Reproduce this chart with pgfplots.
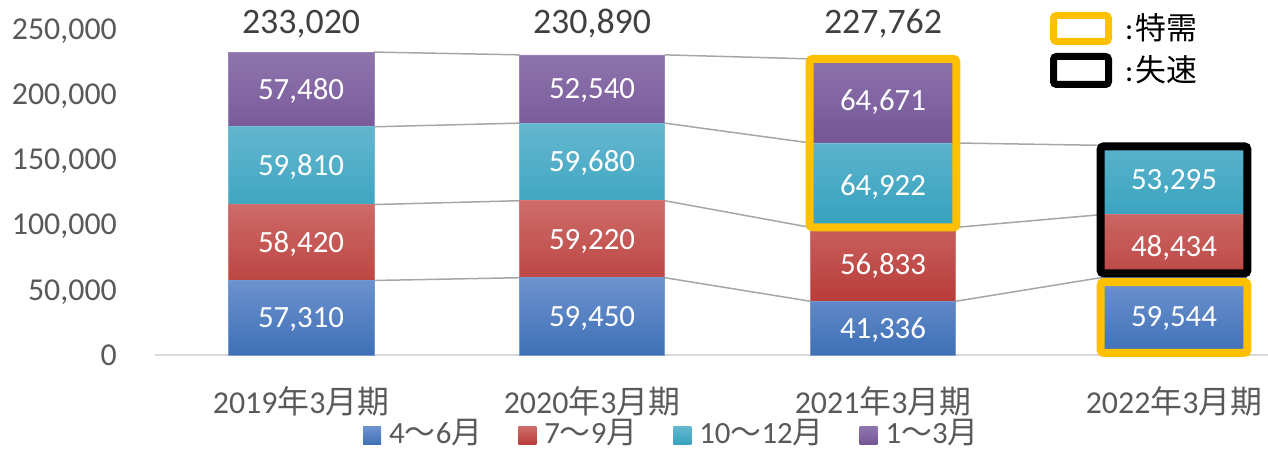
\documentclass[border=0pt]{standalone}
\usepackage{fontspec}
\setmainfont{Carlito}
\newfontfamily\jp{Noto Sans CJK JP}
\usepackage{pgfplots}
\pgfplotsset{compat=1.18}
\usepackage{pgfplotstable}

\definecolor{blueT}{RGB}{110,147,207}
\definecolor{blueB}{RGB}{62,112,182}
\definecolor{blueE}{RGB}{120,152,205}
\definecolor{redT}{RGB}{206,108,106}
\definecolor{redB}{RGB}{184,60,57}
\definecolor{redE}{RGB}{210,120,118}
\definecolor{tealT}{RGB}{100,183,207}
\definecolor{tealB}{RGB}{53,161,190}
\definecolor{tealE}{RGB}{120,190,210}
\definecolor{purT}{RGB}{143,117,174}
\definecolor{purB}{RGB}{116,85,150}
\definecolor{purE}{RGB}{155,132,184}
\definecolor{cOrange}{RGB}{255,192,0}
\definecolor{cGrayLine}{RGB}{166,166,166}
\definecolor{cAxis}{RGB}{217,217,217}
\definecolor{cTick}{RGB}{89,89,89}
\definecolor{cTotal}{RGB}{64,64,64}

\pgfplotstableread{
x y lab
0 28655 57,310
0 86520 58,420
0 145635 59,810
0 204280 57,480
1 29725 59,450
1 89060 59,220
1 148510 59,680
1 204620 52,540
2 20668 41,336
2 69752.5 56,833
2 130630 64,922
2 195426.5 64,671
3 29772 59,544
3 83761 48,434
3 134625.5 53,295
}\labs

\pgfplotsset{
  base/.style={at={(0,0)}, anchor=south west, scale only axis,
    width=1113bp, height=325bp, xmin=-0.502, xmax=3.323,
    ymin=0, ymax=250000, clip=false},
  myleg/.style={legend image code/.code={\path[##1, draw=none] (0bp,-1bp) rectangle (18bp,17bp);}},
}
\newcommand\lf{\fontsize{31}{31}\selectfont}

\begin{document}
\begin{tikzpicture}
\path[use as bounding box] (-155bp,-95bp) rectangle (1113bp,355bp);

% connecting lines
\begin{axis}[base, hide axis]
\addplot[cGrayLine, line width=1.5bp, unbounded coords=jump] coordinates {
(0.25,57310) (0.75,59450) (1,nan) (1.25,59450) (1.75,41336) (2,nan) (2.25,41336) (2.75,59544)};
\addplot[cGrayLine, line width=1.5bp, unbounded coords=jump] coordinates {
(0.25,115730) (0.75,118670) (1,nan) (1.25,118670) (1.75,98169) (2,nan) (2.25,98169) (2.75,107978)};
\addplot[cGrayLine, line width=1.5bp, unbounded coords=jump] coordinates {
(0.25,175540) (0.75,178350) (1,nan) (1.25,178350) (1.75,163091) (2,nan) (2.25,163091) (2.75,161273)};
\addplot[cGrayLine, line width=1.5bp, unbounded coords=jump] coordinates {
(0.25,233020) (0.75,230890) (1,nan) (1.25,230890) (1.75,227762)};
\end{axis}

% bars
\begin{axis}[base, ybar stacked, bar width=0.5,
  axis x line*=bottom, axis y line*=left,
  x axis line style={cAxis, line width=1.5bp},
  y axis line style={draw=none},
  tick style={draw=none},
  scaled y ticks=false,
  xtick={0,1,2,3},
  xticklabels={2019{\jp 年}3{\jp 月期},2020{\jp 年}3{\jp 月期},2021{\jp 年}3{\jp 月期},2022{\jp 年}3{\jp 月期}},
  ytick={0,50000,100000,150000,200000,250000},
  yticklabels={0,{50,000},{100,000},{150,000},{200,000},{250,000}},
  yticklabel style={anchor=base east, inner sep=0pt, xshift=-38bp, yshift=-10bp,
    font=\fontsize{32}{32}\selectfont, text=cTick},
  xticklabel style={anchor=base, inner sep=0pt, yshift=-58bp,
    font=\fontsize{32}{32}\selectfont, text=cTick},
  legend columns=4,
  legend style={at={(0.1869,-0.238)}, anchor=west, draw=none, fill=none,
    inner sep=0pt, cells={anchor=base west, inner sep=0pt, font=\lf, text=cTick},
    font=\lf, text=cTick,
    /tikz/every odd column/.append style={column sep=6bp},
    /tikz/every even column/.append style={column sep=34bp}},
]
\addplot[ybar, myleg, draw=blueE, line width=0.6bp, top color=blueT, bottom color=blueB] coordinates {(0,57310) (1,59450) (2,41336) (3,59544)};
\addlegendentry{\lf 4{\jp 〜}6{\jp 月}}
\addplot[ybar, myleg, draw=redE, line width=0.6bp, top color=redT, bottom color=redB] coordinates {(0,58420) (1,59220) (2,56833) (3,48434)};
\addlegendentry{\lf 7{\jp 〜}9{\jp 月}}
\addplot[ybar, myleg, draw=tealE, line width=0.6bp, top color=tealT, bottom color=tealB] coordinates {(0,59810) (1,59680) (2,64922) (3,53295)};
\addlegendentry{\lf 10{\jp 〜}12{\jp 月}}
\addplot[ybar, myleg, draw=purE, line width=0.6bp, top color=purT, bottom color=purB] coordinates {(0,57480) (1,52540) (2,64671)};
\addlegendentry{\lf 1{\jp 〜}3{\jp 月}}
\end{axis}

% labels and highlight boxes
\begin{axis}[base, hide axis]
\addplot[only marks, mark=*, mark size=0pt, mark options={draw=none, fill=none},
  nodes near coords, point meta=explicit symbolic,
  every node near coord/.style={anchor=base, yshift=-10bp, inner sep=0pt,
    font=\fontsize{31}{31}\selectfont, text=white}]
  table[x=x, y=y, meta=lab] {\labs};
\node[anchor=base, inner sep=0pt, font=\fontsize{36}{36}\selectfont, text=cTotal] at (axis cs:0,247400) {233,020};
\node[anchor=base, inner sep=0pt, font=\fontsize{36}{36}\selectfont, text=cTotal] at (axis cs:1,247400) {230,890};
\node[anchor=base, inner sep=0pt, font=\fontsize{36}{36}\selectfont, text=cTotal] at (axis cs:2,247400) {227,762};
\draw[cOrange, line width=8bp, rounded corners=3bp] (axis cs:1.748,98169) rectangle (axis cs:2.252,227762);
\draw[black, line width=8bp, rounded corners=3bp] (axis cs:2.748,62800) rectangle (axis cs:3.252,160500);
\draw[cOrange, line width=8bp, rounded corners=3bp] (axis cs:2.748,1540) rectangle (axis cs:3.252,56150);
\end{axis}

% top-right key
\draw[cOrange, line width=7bp, rounded corners=3bp] (898.5bp,313.5bp) rectangle (953.5bp,339.5bp);
\draw[black, line width=7bp, rounded corners=3bp] (898.5bp,270.5bp) rectangle (953.5bp,298.5bp);
\node[anchor=west, inner sep=0pt, font=\fontsize{31}{31}\selectfont] at (970bp,327bp) {:\kern2bp{\jp 特需}};
\node[anchor=west, inner sep=0pt, font=\fontsize{31}{31}\selectfont] at (970bp,285bp) {:\kern2bp{\jp 失速}};
\end{tikzpicture}
\end{document}
